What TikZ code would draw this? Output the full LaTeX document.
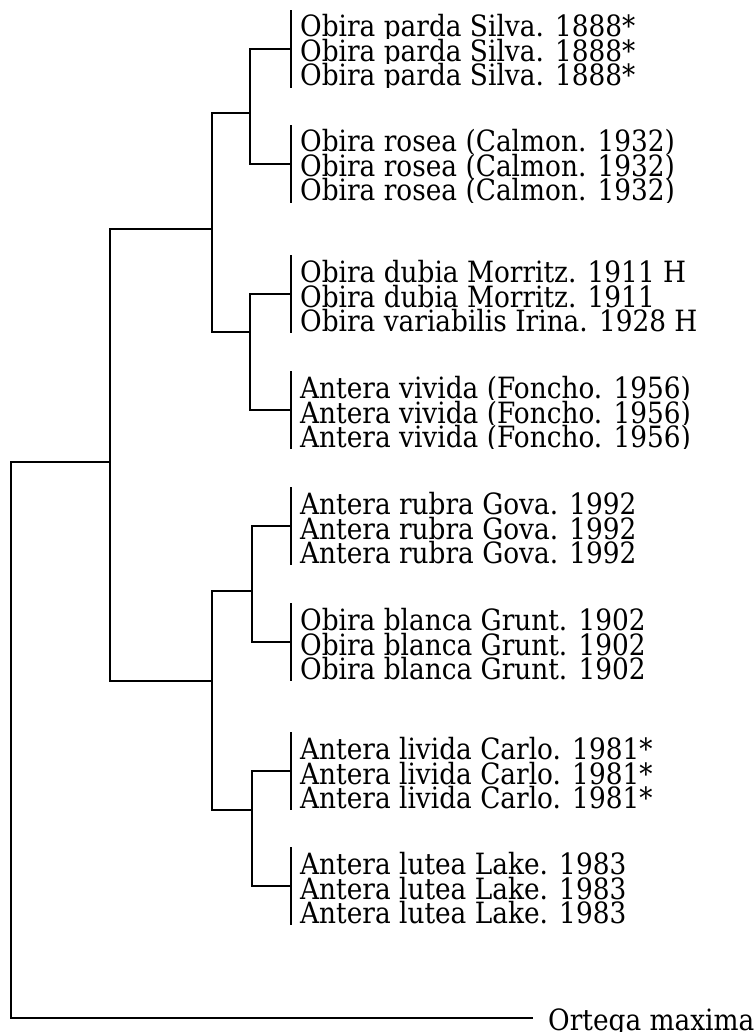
\documentclass[tikz,border=0pt]{standalone}
\usepackage{fontspec}
\setmainfont{DejaVu Serif}[FakeStretch=0.9]
\tikzset{
  branch/.style={line width=2.6pt, line join=miter, line cap=rect},
  lab/.style={anchor=base west, inner sep=0pt, font=\fontsize{29.3}{26}\selectfont},
}
\newcommand{\taxlabel}[3]{%
  \begin{scope}
    \clip (296,{#2-27}) rectangle (760,{#2+1.5});
    \node[lab] (#1) at (300,#2) {#3};
  \end{scope}}
\newcommand{\taxgroup}[5]{%
  \coordinate (#1t) at (291,#2);
  \coordinate (#1b) at (291,{#2+76});
  \coordinate (#1) at (291,{#2+38});
  \draw[branch] (#1t) -- (#1b);
  \taxlabel{#1a}{#2+26}{#3}
  \taxlabel{#1b2}{#2+51}{#4}
  \taxlabel{#1c}{#2+75}{#5}}
\begin{document}
\begin{tikzpicture}[x=1pt,y=-1pt]
\useasboundingbox (0,0) rectangle (755,1032);
\taxgroup{ga}{11}{Obira parda Silva. 1888*}{Obira parda Silva. 1888*}{Obira parda Silva. 1888*}
\taxgroup{gb}{126}{Obira rosea (Calmon. 1932)}{Obira rosea (Calmon. 1932)}{Obira rosea (Calmon. 1932)}
\taxgroup{gc}{256}{Obira dubia Morritz. 1911 H}{Obira dubia Morritz. 1911}{Obira variabilis Irina. 1928 H}
\taxgroup{gd}{372}{Antera vivida (Foncho. 1956)}{Antera vivida (Foncho. 1956)}{Antera vivida (Foncho. 1956)}
\taxgroup{ge}{488}{Antera rubra Gova. 1992}{Antera rubra Gova. 1992}{Antera rubra Gova. 1992}
\taxgroup{gf}{604}{Obira blanca Grunt. 1902}{Obira blanca Grunt. 1902}{Obira blanca Grunt. 1902}
\taxgroup{gg}{733}{Antera livida Carlo. 1981*}{Antera livida Carlo. 1981*}{Antera livida Carlo. 1981*}
\taxgroup{gh}{848}{Antera lutea Lake. 1983}{Antera lutea Lake. 1983}{Antera lutea Lake. 1983}
% outgroup
\begin{scope}
  \clip (540,990) rectangle (760,1032);
  \node[lab] (ortega) at (548,1030) {Ortega maxima};
\end{scope}
\coordinate (out) at (532,1018);
% internal nodes
\coordinate (na) at (250,113);
\coordinate (nb) at (250,332);
\coordinate (nc) at (212,229);
\coordinate (nd) at (252,591);
\coordinate (ne) at (252,810);
\coordinate (nf) at (212,681);
\coordinate (ng) at (110,462);
\coordinate (root) at (11,462);
\draw[branch] (ga) -| (na) |- (gb);
\draw[branch] (gc) -| (nb) |- (gd);
\draw[branch] (na) -| (nc) |- (nb);
\draw[branch] (ge) -| (nd) |- (gf);
\draw[branch] (gg) -| (ne) |- (gh);
\draw[branch] (nd) -| (nf) |- (ne);
\draw[branch] (nc) -| (ng) |- (nf);
\draw[branch] (ng) -- (root) |- (out);
\end{tikzpicture}
\end{document}
